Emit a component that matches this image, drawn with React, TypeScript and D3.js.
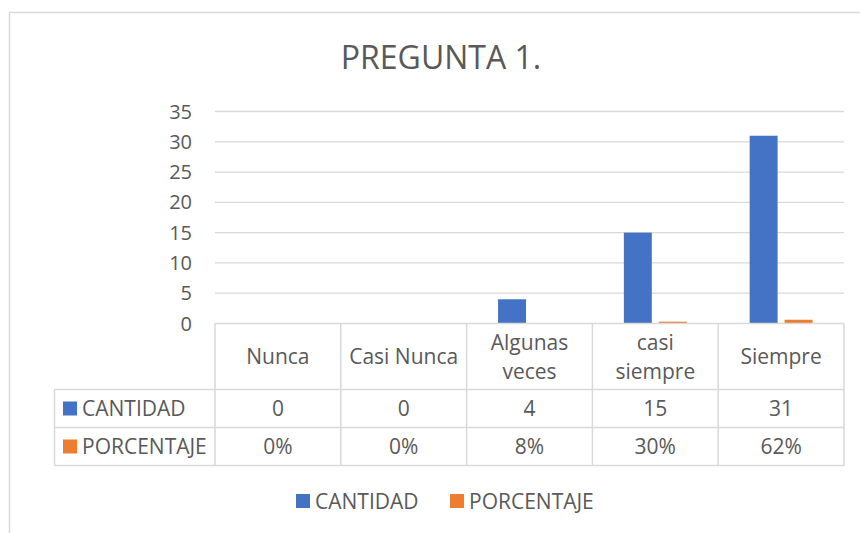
import React from "react";
import * as d3 from "d3";

const title = "PREGUNTA 1.";
const categories = ["Nunca", "Casi Nunca", "Algunas veces", "casi siempre", "Siempre"];
const seriesNames = ["CANTIDAD", "PORCENTAJE"];
const cantidad = [0, 0, 4, 15, 31];
const porcentaje = [0, 0, 0.08, 0.3, 0.62];
const porcentajeLabels = ["0%", "0%", "8%", "30%", "62%"];
const yTicks = [0, 5, 10, 15, 20, 25, 30, 35];
const colors = ["#4472C4", "#ED7D31"];

const W = 860;
const H = 533;
const FONT = "'Open Sans', 'Noto Sans', sans-serif";
const TEXT = "#595959";
const GRID = "#d9d9d9";

function measure(text: string, size: number): number {
  if (typeof document === "undefined") return text.length * size * 0.55;
  const c = document.createElement("canvas");
  const ctx = c.getContext("2d");
  if (!ctx) return text.length * size * 0.55;
  ctx.font = `${size}px 'Open Sans'`;
  return ctx.measureText(text).width;
}

function wrap(text: string, maxW: number, size: number): string[] {
  if (measure(text, size) <= maxW) return [text];
  const words = text.split(" ");
  const lines: string[] = [];
  let cur = "";
  for (const w of words) {
    const t = cur ? cur + " " + w : w;
    if (cur && measure(t, size) > maxW) {
      lines.push(cur);
      cur = w;
    } else cur = t;
  }
  if (cur) lines.push(cur);
  return lines;
}

export default function App() {
  const left = 215;
  const right = 844;
  const tableLeft = 54.5;
  const yZero = 323.5;
  const yTop = 111.5;
  const headerBottom = 389.5;
  const rowH = 38;
  const fs = 21;
  const tickFs = 20;

  const x = d3.scaleBand<string>().domain(categories).range([left, right]).padding(0);
  const bw = x.bandwidth();
  const inner = d3
    .scaleBand<string>()
    .domain(seriesNames)
    .range([bw * 0.25, bw * 0.75])
    .paddingInner(0.2)
    .paddingOuter(0);
  const y = d3.scaleLinear().domain([0, 35]).range([yZero, yTop]);

  const series = [cantidad, porcentaje];
  const rowValues = [cantidad.map((v) => String(v)), porcentajeLabels];

  const hLines = [yZero, headerBottom, headerBottom + rowH, headerBottom + 2 * rowH];
  const vLines = [tableLeft, ...categories.map((c) => x(c)!), right];
  const tableBottom = headerBottom + 2 * rowH;

  return (
    <svg
      width={W}
      height={H}
      style={{ position: "absolute", left: 0, top: 0, background: "#fff" }}
      fontFamily={FONT}
    >
      <rect x={0} y={0} width={W} height={H} fill="#fff" />
      <rect x={9.5} y={12.5} width={W + 20} height={H + 20} fill="none" stroke={GRID} strokeWidth={1.5} />
      <text x={441} y={69} textAnchor="middle" fontSize={32} fill={TEXT}>
        {title}
      </text>

      {/* gridlines */}
      {yTicks.filter((t) => t > 0).map((t) => (
        <line key={t} x1={left} x2={right} y1={y(t)} y2={y(t)} stroke={GRID} strokeWidth={1.3} />
      ))}
      {yTicks.map((t) => (
        <text key={"l" + t} x={192} y={y(t) + 7} textAnchor="end" fontSize={tickFs} fill={TEXT}>
          {t}
        </text>
      ))}

      {/* bars */}
      {series.map((vals, si) =>
        vals.map((v, i) => {
          const c = categories[i];
          const bx = x(c)! + inner(seriesNames[si])!;
          return (
            <rect
              key={si + "-" + i}
              x={bx}
              y={y(v)}
              width={inner.bandwidth()}
              height={yZero - y(v)}
              fill={colors[si]}
            />
          );
        })
      )}

      {/* data table */}
      <line x1={left} x2={right} y1={yZero} y2={yZero} stroke={GRID} strokeWidth={1.5} />
      {hLines.slice(1).map((hy, i) => (
        <line key={"h" + i} x1={tableLeft} x2={right} y1={hy} y2={hy} stroke={GRID} strokeWidth={1.5} />
      ))}
      {vLines.map((vx, i) => (
        <line
          key={"v" + i}
          x1={vx}
          x2={vx}
          y1={i === 0 ? headerBottom : yZero}
          y2={tableBottom}
          stroke={GRID}
          strokeWidth={1.5}
        />
      ))}

      {categories.map((c) => {
        const lines = wrap(c, bw - 10, fs);
        const cy = (yZero + headerBottom) / 2 + 7.5;
        const lh = 29;
        const start = cy - ((lines.length - 1) * lh) / 2;
        return (
          <text key={"c" + c} textAnchor="middle" fontSize={fs} fill={TEXT}>
            {lines.map((ln, li) => (
              <tspan key={li} x={x(c)! + bw / 2} y={start + li * lh}>
                {ln}
              </tspan>
            ))}
          </text>
        );
      })}

      {seriesNames.map((s, si) => {
        const cy = headerBottom + rowH * si + rowH / 2;
        return (
          <g key={"row" + s}>
            <rect x={63} y={cy - 7} width={14} height={14} fill={colors[si]} />
            <text x={82} y={cy + 7.5} fontSize={fs} fill={TEXT}>
              {s}
            </text>
            {rowValues[si].map((v, i) => (
              <text
                key={i}
                x={x(categories[i])! + bw / 2}
                y={cy + 7.5}
                textAnchor="middle"
                fontSize={fs}
                fill={TEXT}
              >
                {v}
              </text>
            ))}
          </g>
        );
      })}

      {/* legend */}
      {seriesNames.map((s, si) => {
        const lx = si === 0 ? 296 : 450;
        const cy = 501;
        return (
          <g key={"lg" + s}>
            <rect x={lx} y={cy - 7} width={14} height={14} fill={colors[si]} />
            <text x={lx + 19} y={cy + 7.5} fontSize={fs} fill={TEXT}>
              {s}
            </text>
          </g>
        );
      })}
    </svg>
  );
}
